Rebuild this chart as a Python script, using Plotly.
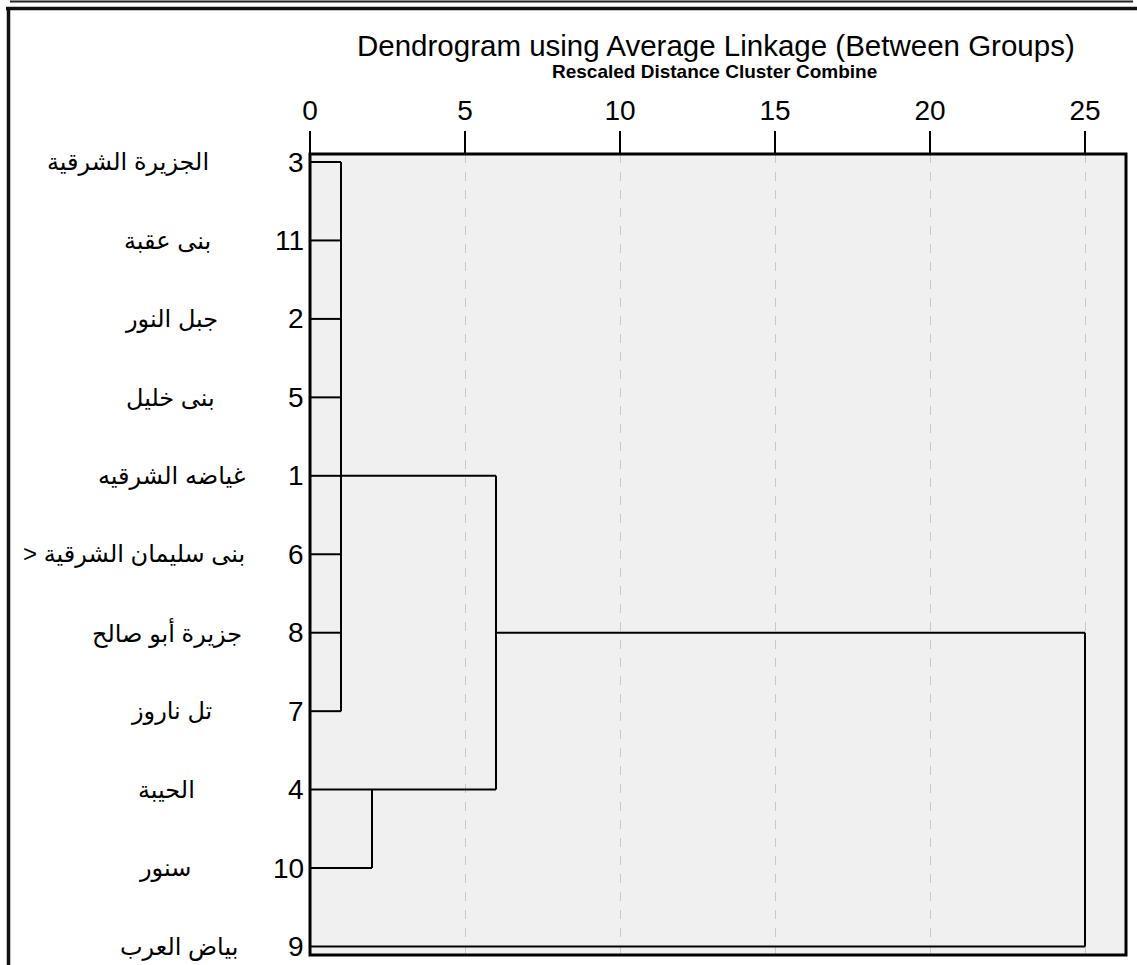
import plotly.graph_objects as go

# ---------------- data ----------------
leaf_ids = [3, 11, 2, 5, 1, 6, 8, 7, 4, 10, 9]
leaf_names = ["الجزيرة الشرقية", "بنى عقبة", "جبل النور", "بنى خليل", "غياضه الشرقيه",
              "> بنى سليمان الشرقية", "جزيرة أبو صالح", "تل ناروز", "الحيبة", "سنور", "بياض العرب"]
merge_names = ["A", "B", "C", "D"]
merge_children = [[0, 1, 2, 3, 4, 5, 6, 7], [8, 9], ["A", "B"], ["C", 10]]
merge_distance = [1.0, 2.0, 6.0, 25.0]
x_ticks = [0, 5, 10, 15, 20, 25]

title_text = "Dendrogram using Average Linkage (Between Groups)"
subtitle_text = "Rescaled Distance Cluster Combine"

# ---------------- layout helpers (pixels) ----------------
W, H = 1137, 965
L, R, T, B = 310, 11, 154, 10
PW, PH = W - L - R, H - T - B


def px(x):
    return (x - L) / PW


def py(y):
    return (H - B - y) / PH


# label horizontal centres (style)
name_centers = [128, 167, 171, 170, 171, 134, 167, 171, 166, 165, 179]

FONT = "Arial, Liberation Sans, DejaVu Sans, sans-serif"

# ---------------- build dendrogram segments ----------------
nodes = {}  # key -> (y, height)
for i in range(len(leaf_ids)):
    nodes[i] = (i, 0.0)

xs, ys = [], []
for name, children, d in zip(merge_names, merge_children, merge_distance):
    cys = []
    for c in children:
        cy, ch = nodes[c]
        xs += [ch, d, None]
        ys += [cy, cy, None]
        cys.append(cy)
    xs += [d, d, None]
    ys += [min(cys), max(cys), None]
    nodes[name] = (round((min(cys) + max(cys)) / 2), d)

fig = go.Figure()
fig.add_trace(go.Scatter(x=xs, y=ys, mode="lines",
                         line=dict(color="black", width=2),
                         hoverinfo="skip", showlegend=False))

n = len(leaf_ids)
fig.update_layout(
    width=W, height=H,
    margin=dict(l=L, r=R, t=T, b=B, pad=0),
    paper_bgcolor="white",
    plot_bgcolor="#f0f0f0",
    showlegend=False,
    font=dict(family=FONT, color="black"),
    xaxis=dict(
        side="top", range=[0, PW / 31.0],
        tickvals=x_ticks, ticktext=[str(t) for t in x_ticks],
        ticks="outside", ticklen=22, tickwidth=2, tickcolor="black",
        tickfont=dict(size=28, family=FONT, color="black"),
        ticklabelstandoff=0,
        showgrid=True, gridcolor="#c8c8c8", gridwidth=1, griddash="dash",
        zeroline=False, showline=False, fixedrange=True,
    ),
    yaxis=dict(
        range=[n - 1 + 0.108, -0.102],
        showticklabels=False, showgrid=False, zeroline=False, showline=False,
        ticks="", fixedrange=True,
    ),
)

shapes = [
    # plot frame
    dict(type="rect", xref="paper", yref="paper", x0=0, x1=1, y0=0, y1=1,
         line=dict(color="black", width=3), layer="above"),
    # outer frame lines
    dict(type="line", xref="paper", yref="paper", x0=px(10), x1=px(1133), y0=py(1.5), y1=py(1.5),
         line=dict(color="#222222", width=2)),
    dict(type="line", xref="paper", yref="paper", x0=px(6), x1=px(1137), y0=py(8.5), y1=py(8.5),
         line=dict(color="#111111", width=3.5)),
    dict(type="line", xref="paper", yref="paper", x0=px(8.5), x1=px(8.5), y0=py(7), y1=py(965),
         line=dict(color="#111111", width=3.5)),
]
fig.update_layout(shapes=shapes)

ann = [
    dict(text=title_text, xref="paper", yref="paper", x=px(716), y=py(46),
         xanchor="center", yanchor="middle", showarrow=False,
         font=dict(size=29.5, family=FONT, color="black")),
    dict(text="<b>" + subtitle_text + "</b>", xref="paper", yref="paper", x=px(714), y=py(72),
         xanchor="center", yanchor="middle", showarrow=False,
         font=dict(size=19, family=FONT, color="black")),
]
for i, (lid, nm) in enumerate(zip(leaf_ids, leaf_names)):
    ann.append(dict(text=str(lid), xref="paper", yref="y", x=px(306), y=i,
                    xanchor="right", yanchor="middle", showarrow=False,
                    font=dict(size=28, family=FONT, color="black")))
    ann.append(dict(text=nm, xref="paper", yref="y", x=px(name_centers[i]), y=i,
                    xanchor="center", yanchor="middle", showarrow=False,
                    font=dict(size=24, family=FONT, color="black")))
fig.update_layout(annotations=ann)

fig.write_html("out.html",
               config={"displayModeBar": False},
               post_script="document.body.style.margin='0px';document.body.style.overflow='hidden';")
